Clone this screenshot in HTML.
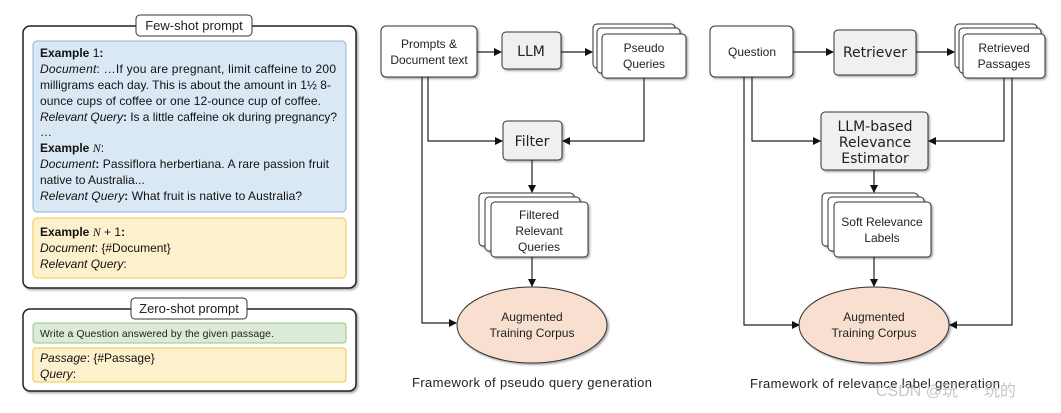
<!DOCTYPE html>
<html><head><meta charset="utf-8"><style>
body{margin:0;background:#fff;width:1061px;height:408px;overflow:hidden}
text{font-family:"Liberation Sans","DejaVu Sans",sans-serif}
.t{font-size:12px;fill:#222}
.p{font-size:12px;fill:#111}
.c{font-family:"DejaVu Sans",sans-serif;font-size:14px;fill:#222}
</style></head><body>
<svg width="1061" height="408" viewBox="0 0 1061 408" xmlns="http://www.w3.org/2000/svg">
<defs>
<marker id="a" markerWidth="8" markerHeight="8" refX="7" refY="4" orient="auto" markerUnits="userSpaceOnUse"><path d="M0,0 L8,4 L0,8 z" fill="#111"/></marker>
<filter id="s" x="-10%" y="-10%" width="130%" height="130%"><feDropShadow dx="1.5" dy="1.5" stdDeviation="1" flood-color="#000" flood-opacity="0.35"/></filter>
</defs>
<!-- Few-shot -->
<rect x="23" y="26" width="333" height="262" rx="7" fill="#fff" stroke="#222" stroke-width="1.5" filter="url(#s)"/>
<rect x="136" y="15" width="116" height="21" rx="4" fill="#fff" stroke="#333"/>
<text x="194" y="30" text-anchor="middle" class="t" style="font-size:13px">Few-shot prompt</text>
<rect x="33" y="41" width="313" height="171" rx="4" fill="#dae7f4" stroke="#8fb3dc"/>
<g class="p">
<text x="40" y="57"><tspan font-weight="bold">Example</tspan> 1<tspan font-weight="bold">:</tspan></text>
<text x="40" y="73" textLength="296"><tspan font-style="italic">Document</tspan>: …If you are pregnant, limit caffeine to 200</text>
<text x="40" y="89" textLength="291">milligrams each day. This is about the amount in 1½ 8-</text>
<text x="40" y="105" textLength="281">ounce cups of coffee or one 12-ounce cup of coffee.</text>
<text x="40" y="121" textLength="297"><tspan font-style="italic">Relevant Query</tspan><tspan font-weight="bold">:</tspan> Is a little caffeine ok during pregnancy?</text>
<text x="40" y="136">…</text>
<text x="40" y="152"><tspan font-weight="bold">Example </tspan><tspan font-style="italic" font-family="Liberation Serif">N</tspan>:</text>
<text x="40" y="168" textLength="289"><tspan font-style="italic">Document</tspan><tspan font-weight="bold">:</tspan> Passiflora herbertiana. A rare passion fruit</text>
<text x="40" y="184">native to Australia...</text>
<text x="40" y="200" textLength="262"><tspan font-style="italic">Relevant Query</tspan><tspan font-weight="bold">:</tspan> What fruit is native to Australia?</text>
</g>
<rect x="33" y="218" width="313" height="60" rx="4" fill="#fdf0cc" stroke="#f2c744"/>
<g class="p">
<text x="40" y="236"><tspan font-weight="bold">Example </tspan><tspan font-style="italic" font-family="Liberation Serif">N</tspan> + 1<tspan font-weight="bold">:</tspan></text>
<text x="40" y="252"><tspan font-style="italic">Document</tspan>: {#Document}</text>
<text x="40" y="268"><tspan font-style="italic">Relevant Query</tspan>:</text>
</g>
<!-- Zero-shot -->
<rect x="23" y="309" width="333" height="82" rx="7" fill="#fff" stroke="#222" stroke-width="1.5" filter="url(#s)"/>
<rect x="131" y="298" width="116" height="21" rx="4" fill="#fff" stroke="#333"/>
<text x="189" y="313" text-anchor="middle" class="t" style="font-size:13px">Zero-shot prompt</text>
<rect x="33" y="323" width="313" height="20" rx="3" fill="#dcebd5" stroke="#97c486"/>
<text x="40" y="337" style="font-size:10.5px;fill:#222" textLength="234">Write a  Question answered by the given passage.</text>
<rect x="33" y="348" width="313" height="34" rx="3" fill="#fdf0cc" stroke="#f2c744"/>
<text x="40" y="362" class="p"><tspan font-style="italic">Passage</tspan>: {#Passage}</text>
<text x="40" y="378" class="p"><tspan font-style="italic">Query</tspan>:</text>

<!-- Middle boxes -->
<g stroke="#333" stroke-width="1" filter="url(#s)">
<rect x="381" y="26" width="96" height="51" rx="5" fill="#fff"/>
<rect x="502" y="32" width="59" height="37" rx="4" fill="#f0f0f0"/>
<rect x="593" y="24" width="82" height="44" rx="4" fill="#fff"/>
<rect x="597" y="28" width="83" height="45" rx="4" fill="#fff"/>
<rect x="602" y="34" width="84" height="44" rx="4" fill="#fff"/>
<rect x="503" y="121" width="59" height="39" rx="4" fill="#f0f0f0"/>
<rect x="479" y="193" width="95" height="53" rx="4" fill="#fff"/>
<rect x="485" y="197" width="95" height="54" rx="4" fill="#fff"/>
<rect x="491" y="202" width="97" height="55" rx="4" fill="#fff"/>
</g>
<ellipse cx="532" cy="325" rx="75" ry="38" fill="#f8dfcf" stroke="#333" filter="url(#s)"/>
<g stroke="#222" fill="none" stroke-width="1.2">
<path d="M477,52 H501" marker-end="url(#a)"/>
<path d="M561,52 H592" marker-end="url(#a)"/>
<path d="M422,77 V323 H456" marker-end="url(#a)"/>
<path d="M428,77 V141 H502" marker-end="url(#a)"/>
<path d="M644,78 V141 H563" marker-end="url(#a)"/>
<path d="M532,160 V192" marker-end="url(#a)"/>
<path d="M532,257 V286" marker-end="url(#a)"/>
</g>
<g class="t" text-anchor="middle">
<text x="429" y="48">Prompts &amp;</text>
<text x="429" y="64">Document text</text>
<text x="644" y="52">Pseudo</text>
<text x="644" y="68">Queries</text>
<text x="539" y="219">Filtered</text>
<text x="539" y="235">Relevant</text>
<text x="539" y="251">Queries</text>
<text x="532" y="321">Augmented</text>
<text x="532" y="337">Training Corpus</text>
<text x="532" y="387" style="font-size:13px" textLength="240">Framework of pseudo query generation</text>
</g>
<text x="531" y="56" class="c" text-anchor="middle">LLM</text>
<text x="532" y="146" class="c" text-anchor="middle">Filter</text>

<!-- Right boxes -->
<g stroke="#333" stroke-width="1" filter="url(#s)">
<rect x="710" y="26" width="83" height="51" rx="5" fill="#fff"/>
<rect x="834" y="30" width="82" height="45" rx="4" fill="#f0f0f0"/>
<rect x="955" y="24" width="82" height="44" rx="4" fill="#fff"/>
<rect x="959" y="28" width="82" height="45" rx="4" fill="#fff"/>
<rect x="963" y="34" width="82" height="44" rx="4" fill="#fff"/>
<rect x="821" y="112" width="107" height="58" rx="4" fill="#f0f0f0"/>
<rect x="822" y="193" width="96" height="53" rx="4" fill="#fff"/>
<rect x="828" y="197" width="96" height="54" rx="4" fill="#fff"/>
<rect x="834" y="202" width="97" height="55" rx="4" fill="#fff"/>
</g>
<ellipse cx="874" cy="325" rx="75" ry="38" fill="#f8dfcf" stroke="#333" filter="url(#s)"/>
<g stroke="#222" fill="none" stroke-width="1.2">
<path d="M793,52 H833" marker-end="url(#a)"/>
<path d="M916,52 H954" marker-end="url(#a)"/>
<path d="M744,77 V325 H799" marker-end="url(#a)"/>
<path d="M752,77 V141 H820" marker-end="url(#a)"/>
<path d="M1004,78 V141 H929" marker-end="url(#a)"/>
<path d="M1012,78 V325 H950" marker-end="url(#a)"/>
<path d="M874,170 V192" marker-end="url(#a)"/>
<path d="M874,257 V286" marker-end="url(#a)"/>
</g>
<g class="t" text-anchor="middle">
<text x="752" y="56">Question</text>
<text x="1004" y="52">Retrieved</text>
<text x="1004" y="68">Passages</text>
<text x="882" y="226">Soft Relevance</text>
<text x="882" y="242">Labels</text>
<text x="874" y="321">Augmented</text>
<text x="874" y="337">Training Corpus</text>
<text x="875" y="388" style="font-size:13px" textLength="250">Framework of relevance label generation</text>
</g>
<text x="875" y="57" class="c" text-anchor="middle">Retriever</text>
<text x="875" y="131" class="c" text-anchor="middle">LLM-based</text>
<text x="875" y="147" class="c" text-anchor="middle">Relevance</text>
<text x="875" y="163" class="c" text-anchor="middle">Estimator</text>
<text x="876" y="396" style="font-family:'Liberation Sans','Noto Sans CJK SC',sans-serif;font-size:16px;fill:#bbb;opacity:0.85">CSDN @玩 * * 玩的</text>
</svg>
</body></html>
